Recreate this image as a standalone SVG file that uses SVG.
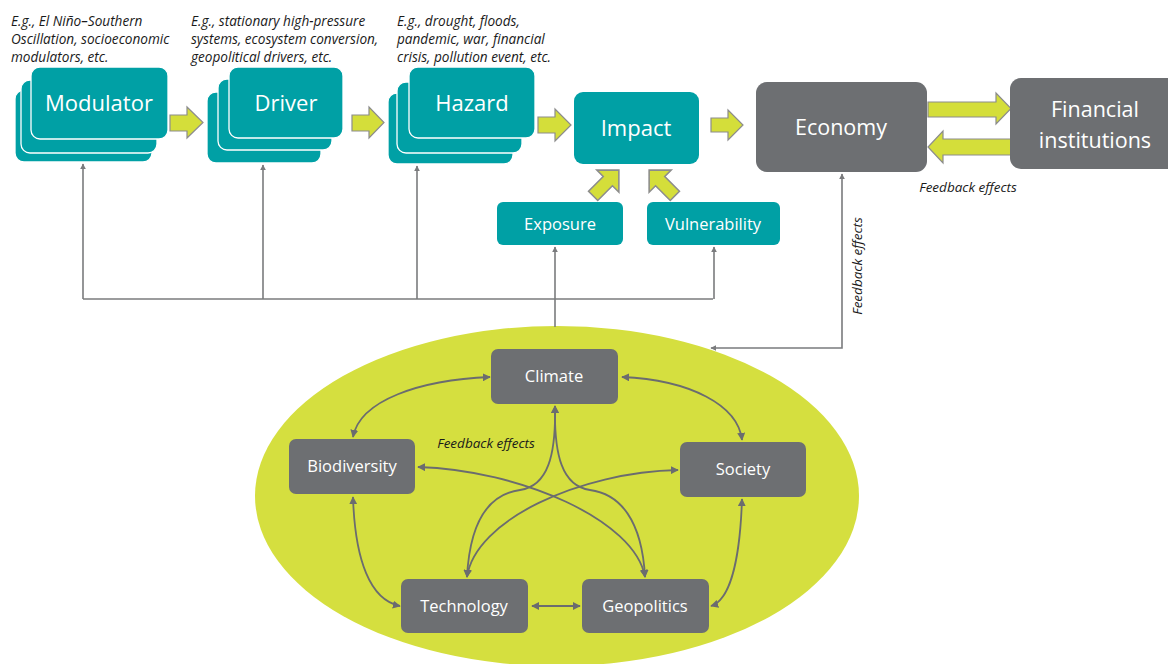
<svg xmlns="http://www.w3.org/2000/svg" width="1168" height="664" viewBox="0 0 1168 664">
  <style>
    .teal { fill: #00a0a5; stroke: #ffffff; stroke-width: 1.3; }
    .tealbox { fill: #00a0a5; }
    .grey { fill: #6d6f72; }
    .big { font-family: "Open Sans", "Liberation Sans", sans-serif; fill: #ffffff; text-anchor: middle; }
    .lbl { font-family: "Open Sans", "Liberation Sans", sans-serif; fill: #ffffff; text-anchor: middle; font-size: 16.5px; }
    .note { font-family: "Open Sans", "Liberation Sans", sans-serif; font-style: italic; font-size: 13.6px; fill: #1a1a1a; }
    .fb { font-family: "Open Sans", "Liberation Sans", sans-serif; font-style: italic; font-size: 13.5px; fill: #1a1a1a; }
    .blk { fill: #d4de3a; stroke: #8c8c8c; stroke-width: 1.2; }
    .wire { fill: none; stroke: #7a7b7d; stroke-width: 1.6; }
    .wire2 { fill: none; stroke: #6b6c6f; stroke-width: 1.8; }
  </style>
  <defs>
    <marker id="tri" viewBox="0 0 10 10" refX="9" refY="5" markerWidth="6" markerHeight="6" orient="auto-start-reverse" markerUnits="userSpaceOnUse">
      <path d="M0,0 L10,5 L0,10 z" fill="#7a7b7d"/>
    </marker>
    <marker id="tri2" viewBox="0 0 10 10" refX="9" refY="5" markerWidth="8" markerHeight="8" orient="auto-start-reverse" markerUnits="userSpaceOnUse">
      <path d="M0,0 L10,5 L0,10 z" fill="#6b6c6f"/>
    </marker>
    <!-- block arrow pointing right, centred on origin -->
    <path id="blockArrow" d="M-14,-5 L2,-5 L2,-12 L14,0 L2,12 L2,5 L-14,5 z"/>
  </defs>

  <!-- annotations -->
  <g id="notes">
    <text class="note" x="11" y="26">E.g., El Niño–Southern</text>
    <text class="note" x="11" y="44">Oscillation, socioeconomic</text>
    <text class="note" x="11" y="62">modulators, etc.</text>
    <text class="note" x="191" y="26">E.g., stationary high-pressure</text>
    <text class="note" x="191" y="44">systems, ecosystem conversion,</text>
    <text class="note" x="191" y="62">geopolitical drivers, etc.</text>
    <text class="note" x="397" y="26">E.g., drought, floods,</text>
    <text class="note" x="397" y="44">pandemic, war, financial</text>
    <text class="note" x="397" y="62">crisis, pollution event, etc.</text>
  </g>

  <!-- background ellipse -->
  <ellipse id="system" cx="557" cy="496" rx="302" ry="170" fill="#d5df3f"/>

  <!-- connectors -->
  <g id="connectors">
    <!-- feeds from the system to the chain -->
    <path class="wire" d="M83,299 L713,299"/>
    <path class="wire" d="M83,299 L83,164" marker-end="url(#tri)"/>
    <path class="wire" d="M263,299 L263,165" marker-end="url(#tri)"/>
    <path class="wire" d="M417,299 L417,166" marker-end="url(#tri)"/>
    <path class="wire" d="M555,327 L555,247" marker-end="url(#tri)"/>
    <path class="wire" d="M714,299 L714,247" marker-end="url(#tri)"/>
    <!-- economy feedback -->
    <path class="wire" d="M842,174 L842,348 L711,348" marker-start="url(#tri)" marker-end="url(#tri)"/>

    <!-- links inside the system -->
    <path class="wire2" d="M490,377 C420,380 360,400 353,437" marker-start="url(#tri2)" marker-end="url(#tri2)"/>
    <path class="wire2" d="M622,377 C690,380 738,405 742,440" marker-start="url(#tri2)" marker-end="url(#tri2)"/>
    <path class="wire2" d="M353,497 C355,560 370,600 400,606" marker-start="url(#tri2)" marker-end="url(#tri2)"/>
    <path class="wire2" d="M742,499 C740,560 730,600 711,606" marker-start="url(#tri2)" marker-end="url(#tri2)"/>
    <path class="wire2" d="M532,606 L580,606" marker-start="url(#tri2)" marker-end="url(#tri2)"/>
    <path class="wire2" d="M555,406 C556,455 548,486 520,490 C490,494 470,520 467,577" marker-start="url(#tri2)" marker-end="url(#tri2)"/>
    <path class="wire2" d="M555,406 C554,455 562,486 590,490 C620,494 642,520 645,577" marker-start="url(#tri2)" marker-end="url(#tri2)"/>
    <path class="wire2" d="M418,467 C520,470 635,520 645,577" marker-start="url(#tri2)" marker-end="url(#tri2)"/>
    <path class="wire2" d="M678,470 C580,472 475,520 467,577" marker-start="url(#tri2)" marker-end="url(#tri2)"/>

    <!-- block arrows along the chain -->
    <polygon class="blk" points="170,115 187,115 187,107 203,122.5 187,138 187,131 170,131"/>
    <polygon class="blk" points="352,115 369,115 369,107 384,122.5 369,138 369,131 352,131"/>
    <polygon class="blk" points="538,117 555,117 555,109 571,125 555,141 555,133 538,133"/>
    <polygon class="blk" points="711,118 728,118 728,110 743,125 728,140 728,132 711,132"/>
    <polygon class="blk" points="928,102 996,102 996,93 1011,108.5 996,124 996,117 928,117"/>
    <polygon class="blk" points="1011,139 943,139 943,131 928,147 943,163 943,155 1011,155"/>
    <use href="#blockArrow" class="blk" transform="translate(606,183) scale(1.3) rotate(-45)"/>
    <use href="#blockArrow" class="blk" transform="translate(662,183) scale(-1.3,1.3) rotate(-45)"/>
  </g>

  <!-- chain nodes -->
  <g id="modulator">
    <rect class="teal" x="15" y="90" width="137" height="72" rx="9"/>
    <rect class="teal" x="21" y="80" width="136" height="73" rx="9"/>
    <rect class="teal" x="31" y="67" width="137" height="72" rx="9"/>
    <text class="big" x="99" y="111" font-size="22">Modulator</text>
  </g>
  <g id="driver">
    <rect class="teal" x="207" y="92" width="114" height="71" rx="9"/>
    <rect class="teal" x="218" y="79" width="114" height="71" rx="9"/>
    <rect class="teal" x="229" y="67" width="114" height="71" rx="9"/>
    <text class="big" x="286" y="111" font-size="22">Driver</text>
  </g>
  <g id="hazard">
    <rect class="teal" x="388" y="93" width="125" height="71" rx="9"/>
    <rect class="teal" x="397" y="82" width="125" height="71" rx="9"/>
    <rect class="teal" x="409" y="67" width="126" height="71" rx="9"/>
    <text class="big" x="472" y="111" font-size="22">Hazard</text>
  </g>
  <g id="impact">
    <rect class="tealbox" x="574" y="92" width="125" height="72" rx="9"/>
    <text class="big" x="636" y="136" font-size="22">Impact</text>
  </g>
  <g id="exposure">
    <rect class="tealbox" x="497" y="202" width="126" height="43" rx="6"/>
    <text class="lbl" x="560" y="230" font-size="17">Exposure</text>
  </g>
  <g id="vulnerability">
    <rect class="tealbox" x="647" y="202" width="133" height="43" rx="6"/>
    <text class="lbl" x="713" y="230" font-size="17">Vulnerability</text>
  </g>
  <g id="economy">
    <rect class="grey" x="756" y="82" width="171" height="90" rx="11"/>
    <text class="big" x="841" y="135" font-size="21.5">Economy</text>
  </g>
  <g id="financial-institutions">
    <rect class="grey" x="1010" y="78" width="170" height="91" rx="11"/>
    <text class="big" x="1095" y="117" font-size="21.5">Financial</text>
    <text class="big" x="1095" y="148" font-size="21.5">institutions</text>
  </g>

  <!-- feedback labels -->
  <g id="feedback-labels">
    <text class="fb" x="968" y="192" text-anchor="middle">Feedback effects</text>
    <text class="fb" x="0" y="0" text-anchor="middle" transform="translate(862,266) rotate(-90)">Feedback effects</text>
    <text class="fb" x="486" y="448" text-anchor="middle">Feedback effects</text>
  </g>

  <!-- system nodes -->
  <g id="climate">
    <rect class="grey" x="491" y="349" width="127" height="55" rx="7"/>
    <text class="lbl" x="554" y="382">Climate</text>
  </g>
  <g id="biodiversity">
    <rect class="grey" x="289" y="439" width="126" height="55" rx="7"/>
    <text class="lbl" x="352" y="472">Biodiversity</text>
  </g>
  <g id="society">
    <rect class="grey" x="680" y="442" width="126" height="55" rx="7"/>
    <text class="lbl" x="743" y="475">Society</text>
  </g>
  <g id="technology">
    <rect class="grey" x="401" y="579" width="127" height="54" rx="7"/>
    <text class="lbl" x="464" y="612">Technology</text>
  </g>
  <g id="geopolitics">
    <rect class="grey" x="582" y="579" width="127" height="54" rx="7"/>
    <text class="lbl" x="645" y="612">Geopolitics</text>
  </g>
</svg>
